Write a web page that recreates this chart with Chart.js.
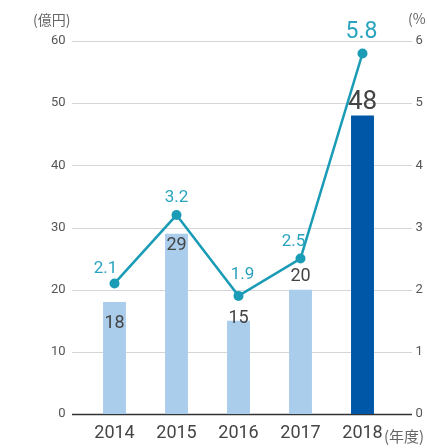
<!DOCTYPE html>
<html>
<head>
<meta charset="utf-8">
<script src="https://cdn.jsdelivr.net/npm/chart.js@4/dist/chart.umd.min.js"></script>
<style>
    html, body { margin: 0; padding: 0; background: #fff; }
    #wrap { width: 427px; height: 448px; position: relative; }
</style>
</head>
<body>
<div id="wrap"><canvas id="salesChart"></canvas></div>
<script>
const years = ['2014', '2015', '2016', '2017', '2018'];
const sales = [18, 29, 15, 20, 48];           // 億円
const ratio = [2.1, 3.2, 1.9, 2.5, 5.8];      // %
const leftTicks = [0, 10, 20, 30, 40, 50, 60];
const rightTicks = [0, 1, 2, 3, 4, 5, 6];

const FONT = 'Roboto, sans-serif';
const TEAL = '#1b9cb6';
const TEXT = '#444';

// label nudges relative to bar top / point
const barLabelDy = [21, 12, -2, -13, -13];
const lineLabelDx = [-9, 0, 4, -7, -1];
const lineLabelDy = [-15, -17, -21, -17, -21];

// gridlines + baseline run wider than the bars' area
const wideGrid = {
    id: 'wideGrid',
    beforeDatasetsDraw(chart) {
        const ctx = chart.ctx;
        const y = chart.scales.y;
        const x0 = 72, x1 = 412;
        ctx.save();
        leftTicks.forEach(v => {
            const py = Math.round(y.getPixelForValue(v)) + 0.5;
            ctx.beginPath();
            if (v === 0) {
                ctx.strokeStyle = '#333';
                ctx.lineWidth = 1.5;
            } else {
                ctx.strokeStyle = '#d6d6d6';
                ctx.lineWidth = 1;
            }
            ctx.moveTo(x0, py);
            ctx.lineTo(x1, py);
            ctx.stroke();
        });
        ctx.restore();
    }
};

const valueLabels = {
    id: 'valueLabels',
    afterDatasetsDraw(chart) {
        const ctx = chart.ctx;
        ctx.save();
        ctx.textAlign = 'center';
        ctx.textBaseline = 'middle';

        chart.getDatasetMeta(0).data.forEach((bar, i) => {
            ctx.fillStyle = TEXT;
            ctx.font = (i === 4 ? '26px ' : '18px ') + FONT;
            ctx.fillText(String(sales[i]), bar.x, bar.y + barLabelDy[i]);
        });

        chart.getDatasetMeta(1).data.forEach((pt, i) => {
            ctx.fillStyle = '#2aa4be';
            ctx.font = (i === 4 ? '23px ' : '17px ') + FONT;
            ctx.fillText(ratio[i].toFixed(1), pt.x + lineLabelDx[i], pt.y + lineLabelDy[i]);
        });

        // unit captions
        ctx.fillStyle = '#666';
        ctx.font = '14px "Noto Sans CJK JP", sans-serif';
        ctx.textAlign = 'left';
        ctx.fillText('(億円)', 33, 20);
        ctx.fillText('(%', 408, 19);
        ctx.font = '15px "Noto Sans CJK JP", sans-serif';
        ctx.fillText('(年度)', 384, 436);
        ctx.restore();
    }
};

new Chart(document.getElementById('salesChart'), {
    data: {
        labels: years,
        datasets: [{
            type: 'bar',
            data: sales,
            yAxisID: 'y',
            backgroundColor: years.map((_, i) => i === years.length - 1 ? '#0057a8' : '#abcdec'),
            barPercentage: 0.37,
            categoryPercentage: 1,
            order: 2
        }, {
            type: 'line',
            data: ratio,
            yAxisID: 'y1',
            borderColor: TEAL,
            borderWidth: 2.5,
            pointRadius: 5,
            pointBackgroundColor: TEAL,
            pointBorderWidth: 0,
            tension: 0,
            order: 1
        }]
    },
    options: {
        responsive: true,
        maintainAspectRatio: false,
        animation: false,
        layout: { padding: { top: 41, left: 0, right: 0, bottom: 0 } },
        plugins: { legend: { display: false }, tooltip: { enabled: false } },
        scales: {
            x: {
                grid: { display: false, drawTicks: false },
                border: { display: false },
                ticks: { color: TEXT, font: { family: FONT, size: 18 }, padding: 9 },
                afterFit(scale) { scale.height = 34; }
            },
            y: {
                position: 'left',
                min: 0, max: 60,
                afterBuildTicks(scale) { scale.ticks = leftTicks.map(v => ({ value: v })); },
                grid: { display: false, drawTicks: false },
                border: { display: false },
                ticks: { color: '#555', font: { family: FONT, size: 13 }, padding: 18 },
                afterFit(scale) { scale.width = 83.5; }
            },
            y1: {
                position: 'right',
                min: 0, max: 6,
                afterBuildTicks(scale) { scale.ticks = rightTicks.map(v => ({ value: v })); },
                grid: { display: false, drawTicks: false },
                border: { display: false },
                ticks: { color: '#555', font: { family: FONT, size: 13 }, padding: 22 },
                afterFit(scale) { scale.width = 33.5; }
            }
        }
    },
    plugins: [wideGrid, valueLabels]
});
</script>
</body>
</html>
